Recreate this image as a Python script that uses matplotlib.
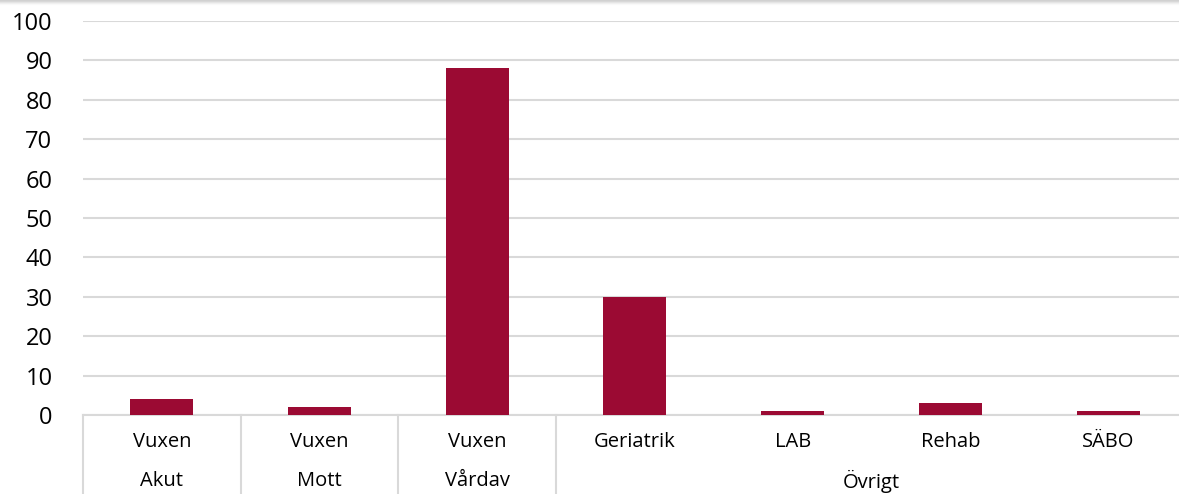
import matplotlib.pyplot as plt
import numpy as np

plt.rcParams['font.family'] = ['Open Sans', 'DejaVu Sans']

inner = ["Vuxen", "Vuxen", "Vuxen", "Geriatrik", "LAB", "Rehab", "SÄBO"]
outer = ["Akut", "Mott", "Vårdav", "Övrigt"]
outer_span = [(0, 0), (1, 1), (2, 2), (3, 6)]
values = [4, 2, 88, 30, 1, 3, 1]

W, H = 1179, 494
left_px, cat_px = 83, 157.7
fig = plt.figure(figsize=(W / 100, H / 100), dpi=100)
ax = fig.add_axes([left_px / W, 1 - 415 / H, 7 * cat_px / W, (415 - 21) / H])

x = np.arange(len(values))
ax.bar(x, values, width=0.4, color="#9B0A33", zorder=3)

ax.set_xlim(-0.5, len(values) - 0.5)
ax.set_ylim(0, 100)
ax.set_yticks(range(0, 101, 10))
ax.tick_params(axis="y", length=0, pad=22, labelsize=17, labelcolor="#000000")
ax.tick_params(axis="x", length=0, labelbottom=False)
ax.grid(axis="y", color="#d9d9d9", linewidth=1.5, zorder=0)
for s in ["top", "right", "left"]:
    ax.spines[s].set_visible(False)
ax.spines["bottom"].set_color("#d9d9d9")
ax.spines["bottom"].set_linewidth(1.5)

trans = ax.get_xaxis_transform()
row1 = -(442 - 415) / 394
row2 = -(481 - 415) / 394
for i, lab in enumerate(inner):
    ax.text(i, row1, lab, transform=trans, ha="center", va="center", fontsize=14.5)
for (a, b), lab in zip(outer_span, outer):
    ax.text((a + b) / 2, row2, lab, transform=trans, ha="center", va="center", fontsize=14.5)

for sx in [-0.5, 0.5, 1.5, 2.5]:
    ax.plot([sx, sx], [0, -80 / 394], transform=trans, color="#d9d9d9",
            linewidth=1.5, clip_on=False)

# faint shadow at top edge
for k, a in enumerate([0.35, 0.25, 0.15, 0.08, 0.03]):
    yy = 1 - (k + 0.5) / H
    fig.add_artist(plt.Line2D([0, 1], [yy, yy], transform=fig.transFigure,
                              color="#888888", alpha=a, linewidth=1))

fig.savefig("out.png", dpi=100)
